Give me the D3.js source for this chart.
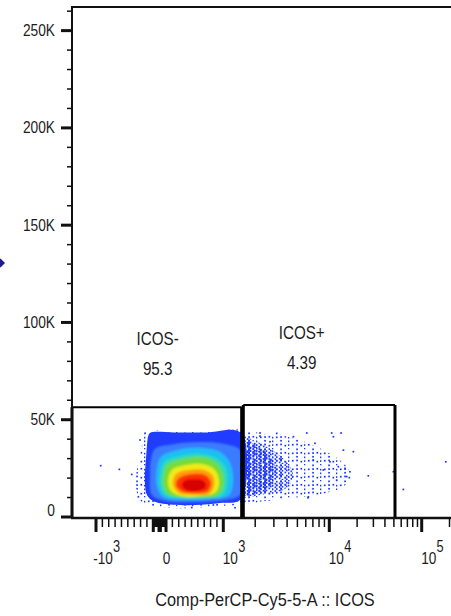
<!DOCTYPE html>
<html>
<head>
<meta charset="utf-8">
<script src="https://cdn.jsdelivr.net/npm/d3@7"></script>
<style>
  html, body { margin: 0; padding: 0; background: #fff; }
  svg { display: block; }
  text { font-family: "Liberation Sans", Arial, sans-serif; fill: #1c1c1c; }
</style>
</head>
<body>
<svg id="chart" width="451" height="616"></svg>
<script>
// ---------------- data ----------------
const yTickValues = [0, 50000, 100000, 150000, 200000, 250000];
const yTickLabels = ["0", "50K", "100K", "150K", "200K", "250K"];
const xTickValues = [-1000, 0, 1000, 10000, 100000];
const xTickBases  = ["-10", "0", "10", "10", "10"];
const xTickPowers = ["3", "", "3", "4", "5"];
const xAxisTitle  = "Comp-PerCP-Cy5-5-A :: ICOS";

const gateNames    = ["ICOS-", "ICOS+"];
const gateFreqs    = [95.3, 4.39];
const gateIcosLow  = [-1684, 1544];
const gateIcosHigh = [1491, 51400];
const gateSscHigh  = [56400, 57600];

// density level outlines, [ICOS, SSC] pairs, outermost first
const tailSparse = [[1468,43200],[2473,42700],[4254,41100],[7318,36500],[11530,31000],[15000,26500],
  [17500,21100],[14000,15500],[8531,11800],[4446,9800],[2473,8200],[1468,7700]];
const tailMid = [[1468,41100],[1991,39100],[2641,36000],[3424,31400],[4254,26200],[4544,20000],
  [3818,14400],[2473,11800],[1786,10300],[1468,9800]];
const tailCore = [[1468,39600],[1866,38000],[2318,35000],[2877,30300],[3141,24200],[2877,17000],
  [2218,12900],[1710,10800],[1468,10300]];
const mainFringe = [[-214,44000],[320,44000],[869,44000],[1468,44000],[1468,7700],[948,5700],[555,4600],
  [163,4600],[-152,5700],[-309,8700],[-371,14900],[-371,21600],[-324,29300],[-277,37000],[-246,42100]];
const mainBlue = [[-152,43200],[241,43400],[712,43400],[1468,43200],[1468,9300],[948,7200],[555,6200],
  [163,6400],[-104,8200],[-199,11300],[-230,16400],[-230,23100],[-214,30300],[-199,37000],[-183,41100]];
const lightBlueZone = [[-73,35000],[241,37500],[634,38500],[1037,37500],[1437,34500],[1468,24200],
  [1437,11300],[1037,8700],[555,7700],[84,8200],[-120,11300],[-152,21600],[-136,29500]];
const cyanZone = [[21,30800],[288,34400],[634,35500],[948,33400],[1156,27800],[1235,19000],[1132,11300],
  [791,9300],[398,8700],[53,10300],[-42,15900],[-42,24700]];
const tealZone = [[84,28800],[335,31400],[634,32400],[916,29800],[1060,24700],[1084,16400],[979,10800],
  [712,9800],[351,9800],[84,11300],[5,17000],[21,23600]];
const greenZone = [[115,26700],[367,29800],[634,30800],[869,28300],[979,23100],[995,15400],[885,10800],
  [634,10000],[335,10000],[131,11800],[53,17000],[68,22600]];
const yellowZone = [[194,24200],[414,26700],[665,27200],[853,24700],[932,19000],[885,12900],[634,10800],
  [351,10800],[178,13400],[131,18500]];
const orangeZone = [[257,22100],[461,24200],[696,24200],[838,21100],[853,15900],[775,11800],[524,11300],
  [304,12300],[210,16400]];
const redZone = [[304,20000],[508,22100],[712,21600],[806,18000],[759,13400],[540,12300],[335,13400],[257,16400]];
const coreZone = [[383,18500],[555,19500],[696,18500],[728,15400],[602,13400],[414,13900],[351,15900]];

// isolated events outside the dense clouds, [ICOS, SSC]
const looseEvents = [
  [-926,26400],[-634,24500],[-439,21900],[1289,4800],[6290,9900],[26400,21200],[49300,23300],
  [63200,14200],[182000,28400],[2218,43200],[3190,43000],[6124,43200],[10600,43200],[13400,43200],
  [14200,34400],[18200,33600],[16700,23300],[15400,20800],[12000,19000],[6340,10400],[4578,41300],
  [2218,41600],[2756,38700],[11050,41300],[7318,37900],[8770,24200],[7060,29300],[12500,25900],
  [14800,25000],[10170,28400],[-335,10400],[-309,39600],[-230,43000],[503,4900],[843,6200]
];

// ---------------- scales ----------------
// biexponential display: linear around zero, logarithmic beyond +/-1000
const xLinear = d3.scaleLinear().domain([-1000, 1000]).range([96, 223.3]);
const xLogPos = d3.scaleLog().domain([1e3, 1e4, 1e5]).range([223.3, 329.3, 421.7]);
const xLogNeg = d3.scaleLog().domain([1e3, 1e4]).range([96, -10]);
function xPos(v) {
  if (v > 1000) return xLogPos(v);
  if (v < -1000) return xLogNeg(-v);
  return xLinear(v);
}
const yScale = d3.scaleLinear().domain([0, 262144]).range([517, 7]);

const W = 451, H = 616;
const plotLeft = 72, plotTop = 7, axisY = 518;

const svg = d3.select("#chart");
svg.append("rect").attr("width", W).attr("height", H).attr("fill", "#fff");
const defs = svg.append("defs");

// ordered-dither tiles (with a little jitter) for the sparse parts of the clouds
const dither = [
  [0, 48, 12, 60, 3, 51, 15, 63],
  [32, 16, 44, 28, 35, 19, 47, 31],
  [8, 56, 4, 52, 11, 59, 7, 55],
  [40, 24, 36, 20, 43, 27, 39, 23],
  [2, 50, 14, 62, 1, 49, 13, 61],
  [34, 18, 46, 30, 33, 17, 45, 29],
  [10, 58, 6, 54, 9, 57, 5, 53],
  [42, 26, 38, 22, 41, 25, 37, 21]
];
const dotBlue = "#1a36ff";
function makePattern(id, level) {
  const p = defs.append("pattern").attr("id", id)
    .attr("patternUnits", "userSpaceOnUse").attr("width", 16).attr("height", 16);
  dither.forEach((row, r) => row.forEach((t, c) => {
    if (t < level) {
      const jx = (((r * 5 + c * 3) % 5) - 2) * 0.3;
      const jy = (((r * 2 + c * 7) % 5) - 2) * 0.3;
      p.append("rect").attr("x", c * 2 + 0.2 + jx).attr("y", r * 2 + 0.2 + jy)
        .attr("width", 1.7).attr("height", 1.7).attr("fill", dotBlue);
    }
  }));
}
makePattern("spkSparse", 12);
makePattern("spkMid", 34);
makePattern("spkDense", 56);

defs.append("filter").attr("id", "soft").attr("x", "-20%").attr("y", "-20%")
  .attr("width", "140%").attr("height", "140%")
  .append("feGaussianBlur").attr("stdDeviation", 1.1);

defs.append("clipPath").attr("id", "plotClip")
  .append("rect").attr("x", plotLeft + 1).attr("y", plotTop + 1)
  .attr("width", W - plotLeft).attr("height", axisY - plotTop - 2);

// ---------------- event clouds ----------------
const outline = d3.line()
  .x(d => xPos(d[0])).y(d => yScale(d[1]))
  .curve(d3.curveCatmullRomClosed.alpha(0.5));

const cloud = svg.append("g").attr("clip-path", "url(#plotClip)");
cloud.append("path").attr("d", outline(tailSparse)).attr("fill", "url(#spkSparse)");
cloud.append("path").attr("d", outline(tailMid)).attr("fill", "url(#spkMid)");
cloud.append("path").attr("d", outline(tailCore)).attr("fill", "url(#spkDense)");
cloud.append("path").attr("d", outline(mainFringe)).attr("fill", "url(#spkSparse)");
cloud.append("path").attr("d", outline(mainBlue)).attr("fill", "#1f3cff");

const colours = cloud.append("g").attr("filter", "url(#soft)");
[
  [lightBlueZone, "#3a7cff"],
  [cyanZone, "#1cbff4"],
  [tealZone, "#30dcb4"],
  [greenZone, "#74dc3a"],
  [yellowZone, "#f0ea14"],
  [orangeZone, "#ff9c0c"],
  [redZone, "#ff3300"],
  [coreZone, "#d80000"]
].forEach(([zone, fill]) => {
  colours.append("path").attr("d", outline(zone)).attr("fill", fill);
});

cloud.append("g").selectAll("rect").data(looseEvents).join("rect")
  .attr("x", d => xPos(d[0]) - 0.8).attr("y", d => yScale(d[1]) - 0.8)
  .attr("width", 1.7).attr("height", 1.7).attr("fill", dotBlue);

// ---------------- gates ----------------
const gates = svg.append("g").attr("stroke", "#000").attr("fill", "none");
gateNames.forEach((name, i) => {
  const x0 = xPos(gateIcosLow[i]), x1 = xPos(gateIcosHigh[i]);
  const yt = yScale(gateSscHigh[i]), yb = yScale(0);
  gates.append("path").attr("d", `M${x0},${yt}H${x1}`).attr("stroke-width", 2);
  gates.append("path").attr("d", `M${x0},${yt}V${yb}M${x1},${yt}V${yb}`).attr("stroke-width", 3);
});

function addText(g, str, x, y, size, sx, anchor) {
  return g.append("text")
    .attr("transform", `translate(${x},${y}) scale(${sx},1)`)
    .attr("font-size", size).attr("text-anchor", anchor).text(str);
}

const labelSpots = [[157.7, 345], [301.7, 339]];
const gateText = svg.append("g");
gateNames.forEach((name, i) => {
  const [lx, ly] = labelSpots[i];
  addText(gateText, name, lx, ly, 19, 0.8, "middle");
  addText(gateText, String(gateFreqs[i]), lx, ly + 29.5, 19, 0.8, "middle");
});

// ---------------- axes ----------------
const axes = svg.append("g").attr("stroke", "#111");
axes.append("line").attr("x1", plotLeft).attr("x2", plotLeft).attr("y1", plotTop - 1).attr("y2", axisY + 1)
  .attr("stroke-width", 2);
axes.append("line").attr("x1", plotLeft - 1).attr("x2", W).attr("y1", plotTop).attr("y2", plotTop)
  .attr("stroke-width", 2);
axes.append("line").attr("x1", plotLeft - 1).attr("x2", W).attr("y1", axisY).attr("y2", axisY)
  .attr("stroke-width", 2.5);

// y ticks: major every 50K, minor every 10K
d3.range(0, 262144, 10000).forEach(v => {
  const major = v % 50000 === 0;
  const y = yScale(v);
  axes.append("line").attr("x1", major ? 61 : 67).attr("x2", plotLeft).attr("y1", y).attr("y2", y)
    .attr("stroke-width", major ? 3 : 1.5);
});
const yLabels = svg.append("g");
yTickValues.forEach((v, i) => {
  const y = Math.min(yScale(v) + 5.5, 516);
  addText(yLabels, yTickLabels[i], 55, y, 16, 0.86, "end");
});

// x ticks: decades are long, intermediate multiples short
const xTicks = [{ v: 0, major: true }];
[1, 10, 100, 1000, 10000, 100000].forEach(d => {
  for (let k = 1; k <= 9; k++) {
    const v = k * d;
    if (v <= 262144) xTicks.push({ v, major: k === 1 });
    if (d <= 1000 && v <= 1000) xTicks.push({ v: -v, major: k === 1 });
  }
});
xTicks.forEach(t => {
  const x = xPos(t.v);
  if (x < plotLeft || x > W) return;
  axes.append("line").attr("x1", x).attr("x2", x).attr("y1", axisY).attr("y2", axisY + (t.major ? 14 : 9))
    .attr("stroke-width", t.major ? 3 : 1.5);
});

const xLabels = svg.append("g");
xTickValues.forEach((v, i) => {
  const cx = xPos(v) + 7;
  const base = addText(xLabels, xTickBases[i], cx, 564, 17, 0.8, "middle");
  if (xTickPowers[i]) {
    const half = base.node().getComputedTextLength() * 0.8 / 2;
    addText(xLabels, xTickPowers[i], cx + half + 0.3, 551.5, 16, 0.8, "start");
  }
});

addText(svg, xAxisTitle, 265, 605.5, 19, 0.86, "middle");

// population pointer at the left margin
svg.append("path").attr("d", "M-4,263L0.5,258.5L5,263L0.5,267.5Z").attr("fill", "#1b1b96");
</script>
</body>
</html>
